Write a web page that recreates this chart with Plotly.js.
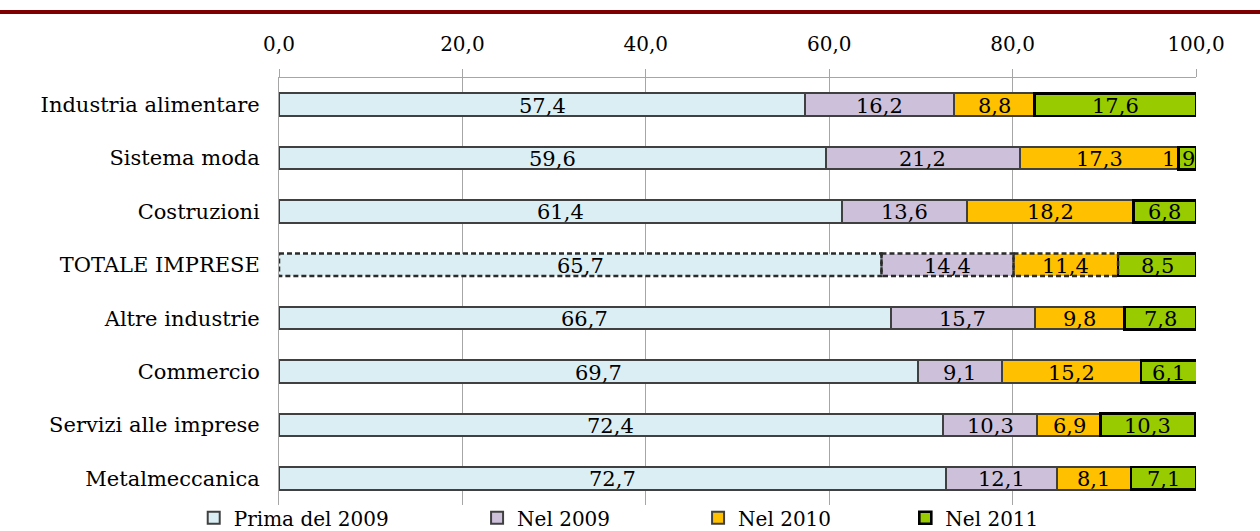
<!DOCTYPE html>
<html>
<head>
<meta charset="utf-8">
<script src="https://cdn.plot.ly/plotly-3.0.1.min.js"></script>
<style>html,body{margin:0;padding:0;background:#fff;}#chart{width:1260px;height:531px;}</style>
</head>
<body>
<div id="chart"></div>
<script>
const categories = ['Industria alimentare','Sistema moda','Costruzioni','TOTALE IMPRESE','Altre industrie','Commercio','Servizi alle imprese','Metalmeccanica'];
const prima2009 = [57.4, 59.6, 61.4, 65.7, 66.7, 69.7, 72.4, 72.7];
const nel2009 = [16.2, 21.2, 13.6, 14.4, 15.7, 9.1, 10.3, 12.1];
const nel2010 = [8.8, 17.3, 18.2, 11.4, 9.8, 15.2, 6.9, 8.1];
const nel2011 = [17.6, 1.9, 6.8, 8.5, 7.8, 6.1, 10.3, 7.1];
const seriesNames = ['Prima del 2009', 'Nel 2009', 'Nel 2010', 'Nel 2011'];
const xTicks = [0, 20, 40, 60, 80, 100];

const FONT = 'DejaVu Serif, serif';
const colors = ['#DAEEF3', '#CCC0DA', '#FFC000', '#99CC00'];
const lineColors = ['#404040', '#404040', '#404040', '#000000'];
const lineWidths = [2, 2, 2, 2.6];
const totalIdx = categories.indexOf('TOTALE IMPRESE');
const bargap = 0.58;
const legendX = [-0.093, 0.216, 0.457, 0.683];

const allSeries = [prima2009, nel2009, nel2010, nel2011];
const fmt = v => v.toFixed(1).replace('.', ',');

const traces = allSeries.map((vals, s) => ({
  type: 'bar',
  orientation: 'h',
  name: seriesNames[s],
  y: categories,
  x: vals,
  textposition: 'none',
  hoverinfo: 'none',
  marker: {
    color: colors[s],
    line: {
      color: lineColors[s],
      width: categories.map((c, i) => (i === totalIdx && s < 3) ? 0 : lineWidths[s])
    }
  },
  legend: s === 0 ? 'legend' : 'legend' + (s + 1)
}));

// value labels, centred on each stacked segment
const annotations = [];
categories.forEach((cat, i) => {
  let start = 0;
  allSeries.forEach((vals, s) => {
    const v = vals[i];
    annotations.push({
      xref: 'x', yref: 'y', x: start + v / 2, y: cat,
      text: fmt(v), showarrow: false, xanchor: 'center', yanchor: 'middle',
      xshift: v < 3 ? -9 : 0, yshift: -1,
      font: {family: FONT, size: 21, color: '#000'}
    });
    start += v;
  });
});

// dashed outlines for the TOTALE IMPRESE segments
const shapes = [];
let cum = 0;
const half = (1 - bargap) / 2;
for (let s = 0; s < 3; s++) {
  const v = allSeries[s][totalIdx];
  shapes.push({
    type: 'rect', xref: 'x', yref: 'y',
    x0: cum, x1: cum + v, y0: totalIdx - half, y1: totalIdx + half,
    line: {color: '#2B2B2B', width: 2.5, dash: '5px,3px'},
    fillcolor: 'rgba(0,0,0,0)', layer: 'above'
  });
  cum += v;
}
// top dark red rule
shapes.push({
  type: 'line', xref: 'paper', yref: 'paper',
  x0: -0.31, x1: 1.08, y0: 1.1546, y1: 1.1546,
  line: {color: '#7F0000', width: 4}
});

const legendBase = {
  orientation: 'h', yanchor: 'middle', xanchor: 'left', y: -0.03,
  font: {family: FONT, size: 20, color: '#000'},
  bgcolor: 'rgba(0,0,0,0)', borderwidth: 0
};

const layout = {
  width: 1260, height: 531,
  margin: {l: 279, r: 64, t: 78, b: 26, autoexpand: false},
  paper_bgcolor: '#fff', plot_bgcolor: '#fff',
  barmode: 'stack', bargap: bargap,
  separators: ',.',
  font: {family: FONT, size: 20, color: '#000'},
  showlegend: true,
  legend: Object.assign({}, legendBase, {x: legendX[0]}),
  legend2: Object.assign({}, legendBase, {x: legendX[1]}),
  legend3: Object.assign({}, legendBase, {x: legendX[2]}),
  legend4: Object.assign({}, legendBase, {x: legendX[3]}),
  xaxis: {
    side: 'top', range: [0, 100], tickvals: xTicks,
    tickformat: '.1f',
    showgrid: true, gridcolor: '#A6A6A6', gridwidth: 1,
    showline: true, linecolor: '#A6A6A6', linewidth: 1,
    ticks: 'outside', ticklen: 8, tickcolor: '#A6A6A6',
    ticklabelstandoff: 10,
    zeroline: false, fixedrange: true,
    tickfont: {family: FONT, size: 20, color: '#000'}
  },
  yaxis: {
    type: 'category', autorange: 'reversed',
    showgrid: false, showline: true, linecolor: '#A6A6A6', linewidth: 1,
    ticks: '', ticklabelstandoff: 14, fixedrange: true,
    tickfont: {family: FONT, size: 21, color: '#000'}
  },
  annotations: annotations,
  shapes: shapes
};

Plotly.newPlot('chart', traces, layout, {displayModeBar: false, staticPlot: true});
</script>
</body>
</html>
